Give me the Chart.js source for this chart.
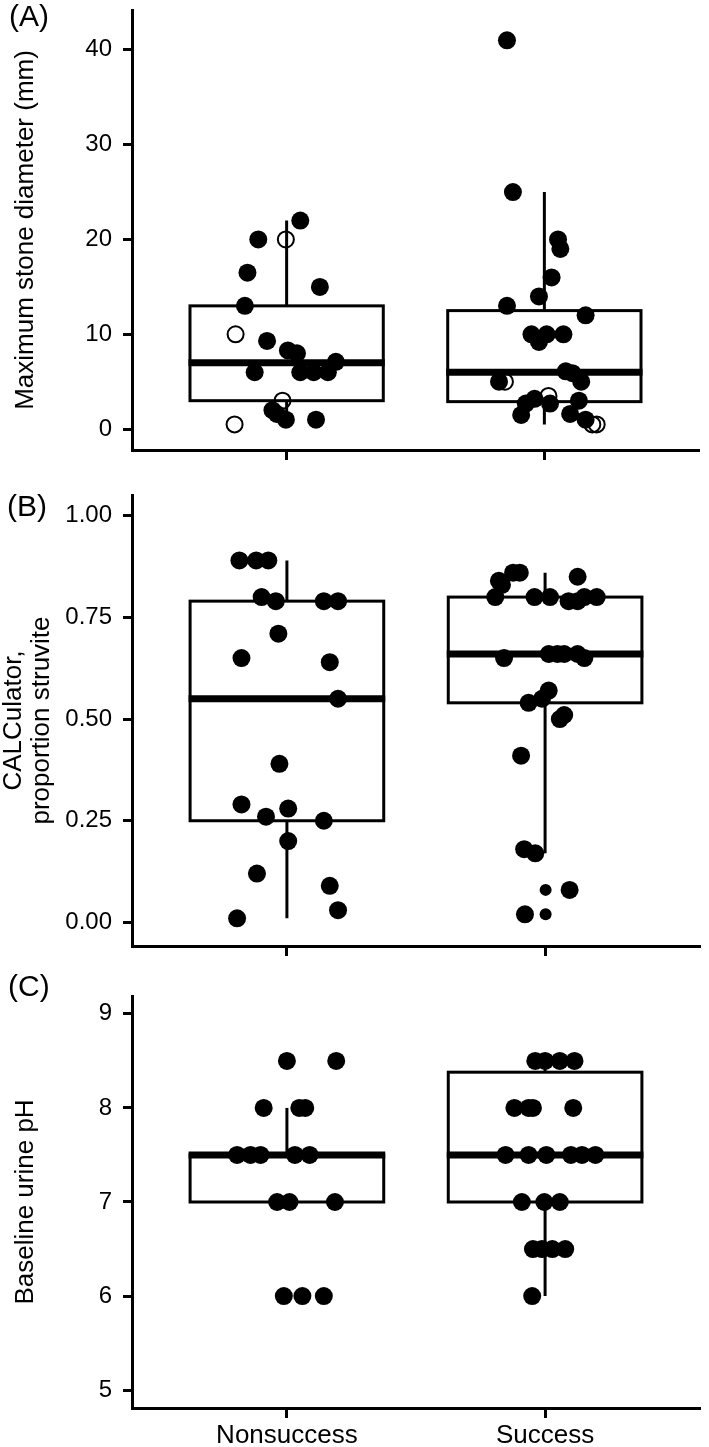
<!DOCTYPE html>
<html>
<head>
<meta charset="utf-8">
<script src="https://cdn.jsdelivr.net/npm/chart.js@4.4.1/dist/chart.umd.min.js"></script>
<style>
  html, body { margin: 0; padding: 0; background: #fff; }
  #wrap { position: relative; width: 709px; height: 1447px; }
  canvas { position: absolute; left: 0; }
</style>
</head>
<body>
<div id="wrap">
  <canvas id="chartA" width="709" height="480" style="top:0"></canvas>
  <canvas id="chartB" width="709" height="480" style="top:480px"></canvas>
  <canvas id="chartC" width="709" height="487" style="top:960px"></canvas>
</div>
<script>
// categories on the x axis
const groups = ['Nonsuccess', 'Success'];

// (A) maximum stone diameter, mm  (jitter = horizontal offset in category units)
const stoneNonFilled = [22, 20, 16.5, 15, 13, 9.3, 8.3, 8, 7.1, 6, 6, 6, 6, 2, 1.6, 1, 1];
const stoneNonFilledJit = [0.053, -0.11, -0.152, 0.129, -0.162, -0.076, 0.005, 0.04, 0.191, -0.124, 0.053, 0.105, 0.16, -0.055, -0.038, -0.003, 0.114];
const stoneNonOpen = [20, 10, 3, 0.5];
const stoneNonOpenJit = [-0.003, -0.198, -0.016, -0.202];
const stoneSucFilled = [41, 25, 20, 19, 16, 14, 13, 12, 10, 10, 10, 9.2, 6.1, 5.9, 5, 5, 3.2, 2.7, 2.7, 3, 1.5, 1.6, 1];
const stoneSucFilledJit = [-0.145, -0.122, 0.053, 0.062, 0.028, -0.021, -0.145, 0.16, -0.05, 0.009, 0.074, -0.021, 0.083, 0.109, -0.176, 0.143, -0.038, -0.072, 0.022, 0.134, -0.09, 0.1, 0.16];
const stoneSucOpen = [5, 3.5, 0.5, 0.5];
const stoneSucOpenJit = [-0.153, 0.016, 0.186, 0.203];
// box stats per group: [Nonsuccess, Success]
const stoneLo = [1, 0.5];
const stoneQ1 = [3, 2.9];
const stoneMed = [7, 6];
const stoneQ3 = [13, 12.5];
const stoneHi = [22, 25];
const stoneTicks = [0, 10, 20, 30, 40];
const stoneTickLabels = ['0', '10', '20', '30', '40'];

// (B) CALCulator, proportion struvite
const struvNon = [0.89, 0.89, 0.89, 0.8, 0.79, 0.79, 0.79, 0.71, 0.65, 0.64, 0.55, 0.39, 0.29, 0.28, 0.26, 0.25, 0.2, 0.12, 0.09, 0.03, 0.01];
const struvNonJit = [-0.184, -0.119, -0.072, -0.098, -0.043, 0.143, 0.198, -0.033, -0.176, 0.166, 0.198, -0.029, -0.176, 0.005, -0.081, 0.143, 0.005, -0.116, 0.166, 0.198, -0.193];
const struvSuc = [0.86, 0.86, 0.85, 0.84, 0.83, 0.8, 0.8, 0.8, 0.8, 0.8, 0.79, 0.79, 0.65, 0.66, 0.66, 0.66, 0.66, 0.65, 0.57, 0.55, 0.54, 0.51, 0.5, 0.41, 0.18, 0.17, 0.08, 0.02];
const struvSucJit = [-0.124, -0.098, 0.126, -0.179, -0.167, -0.193, -0.041, 0.019, 0.152, 0.2, 0.091, 0.126, -0.159, 0.014, 0.048, 0.074, 0.126, 0.152, 0.014, -0.012, -0.064, 0.074, 0.057, -0.093, -0.081, -0.038, 0.095, -0.078];
const struvSucSmall = [0.08, 0.02];
const struvSucSmallJit = [0.002, 0.002];
const struvLo = [0.01, 0.17];
const struvQ1 = [0.25, 0.54];
const struvMed = [0.55, 0.66];
const struvQ3 = [0.79, 0.8];
const struvHi = [0.89, 0.86];
const struvTicks = [0, 0.25, 0.5, 0.75, 1];
const struvTickLabels = ['0.00', '0.25', '0.50', '0.75', '1.00'];

// (C) baseline urine pH
const phNon = [8.5, 8.5, 8, 8, 8, 7.5, 7.5, 7.5, 7.5, 7.5, 7, 7, 7, 6, 6, 6];
const phNonJit = [0, 0.191, -0.09, 0.048, 0.071, -0.193, -0.141, -0.102, 0.031, 0.088, -0.038, 0.01, 0.186, -0.012, 0.06, 0.143];
const phSuc = [8.5, 8.5, 8.5, 8.5, 8, 8, 8, 8, 7.5, 7.5, 7.5, 7.5, 7.5, 7.5, 7, 7, 7, 6.5, 6.5, 6.5, 6.5, 6];
const phSucJit = [-0.038, 0, 0.057, 0.114, -0.119, -0.064, -0.047, 0.109, -0.153, -0.064, 0.005, 0.1, 0.143, 0.195, -0.09, -0.003, 0.057, -0.047, -0.012, 0.028, 0.078, -0.05];
const phLo = [7, 6];
const phQ1 = [7, 7];
const phMed = [7.5, 7.5];
const phQ3 = [7.5, 8.38];
const phHi = [8, 8.5];
const phTicks = [5, 6, 7, 8, 9];
const phTickLabels = ['5', '6', '7', '8', '9'];

const FONT = "'Liberation Sans', Arial, Helvetica, sans-serif";
const BOX_HALF = 0.375; // half box width in category units

// turn values + jitter into scatter points around group position
const pts = (vals, jit, group) => vals.map((v, i) => ({ x: group + jit[i], y: v }));

const filled = (data, r) => ({
  data, pointRadius: r, pointHoverRadius: r,
  backgroundColor: '#000', borderColor: '#000', borderWidth: 0, showLine: false,
});
const open = (data) => ({
  data, pointRadius: 8, pointHoverRadius: 8,
  backgroundColor: 'rgba(0,0,0,0)', borderColor: '#000', borderWidth: 2, showLine: false,
});

// draws the box and whiskers under the points
const boxPlugin = {
  id: 'boxes',
  beforeDatasetsDraw(chart, args, opts) {
    const { ctx, scales: { x, y } } = chart;
    ctx.save();
    ctx.strokeStyle = '#000';
    ctx.lineCap = 'butt';
    opts.q1.forEach((q1, i) => {
      const g = i + 1;
      const cx = x.getPixelForValue(g);
      const l = x.getPixelForValue(g - BOX_HALF);
      const r = x.getPixelForValue(g + BOX_HALF);
      const yq1 = y.getPixelForValue(q1);
      const yq3 = y.getPixelForValue(opts.q3[i]);
      ctx.lineWidth = 3;
      ctx.beginPath();
      ctx.moveTo(cx, y.getPixelForValue(opts.hi[i]));
      ctx.lineTo(cx, yq3);
      ctx.moveTo(cx, yq1);
      ctx.lineTo(cx, y.getPixelForValue(opts.lo[i]));
      ctx.stroke();
      ctx.fillStyle = '#fff';
      ctx.fillRect(l, yq3, r - l, yq1 - yq3);
      ctx.strokeRect(l, yq3, r - l, yq1 - yq3);
      ctx.lineWidth = 7;
      const ym = y.getPixelForValue(opts.med[i]);
      ctx.beginPath();
      ctx.moveTo(l - 1.5, ym);
      ctx.lineTo(r + 1.5, ym);
      ctx.stroke();
    });
    ctx.restore();
  }
};

// panel letter in the top left corner
const letterPlugin = {
  id: 'letter',
  afterDraw(chart, args, opts) {
    const { ctx } = chart;
    ctx.save();
    ctx.fillStyle = '#000';
    ctx.font = '30px ' + FONT;
    ctx.textAlign = 'left';
    ctx.textBaseline = 'middle';
    ctx.fillText(opts.text, opts.x, opts.y);
    ctx.restore();
  }
};

function makePanel(id, p) {
  return new Chart(document.getElementById(id), {
    type: 'scatter',
    data: { datasets: p.datasets },
    plugins: [boxPlugin, letterPlugin],
    options: {
      responsive: false,
      animation: false,
      events: [],
      layout: { padding: { top: p.padTop, left: 0, right: 0, bottom: 0 } },
      plugins: {
        legend: { display: false },
        tooltip: { enabled: false },
        boxes: p.stats,
        letter: p.letter,
      },
      scales: {
        x: {
          type: 'linear',
          min: 0.4,
          max: 2.6,
          afterBuildTicks: (s) => { s.ticks = [1, 2].map((v) => ({ value: v })); },
          afterFit: (s) => { s.height = p.xHeight; s.paddingLeft = 0; s.paddingRight = 0; },
          border: { display: true, color: '#000', width: 3 },
          grid: { drawOnChartArea: false, drawTicks: true, tickLength: 10, tickColor: '#000', tickWidth: 3, color: '#000' },
          ticks: {
            padding: 2,
            color: '#000',
            maxRotation: 0,
            autoSkip: false,
            font: { family: FONT, size: 26 },
            callback: (v, i) => (p.showX ? groups[i] : ''),
          },
        },
        y: {
          min: p.yMin,
          max: p.yMax,
          afterBuildTicks: (s) => { s.ticks = p.ticks.map((v) => ({ value: v })); },
          afterFit: (s) => { s.width = 132; s.paddingTop = 0; s.paddingBottom = 0; },
          border: { display: true, color: '#000', width: 3 },
          grid: { drawOnChartArea: false, drawTicks: true, tickLength: 9, tickColor: '#000', tickWidth: 3, color: '#000' },
          ticks: {
            padding: 11,
            color: '#000',
            font: { family: FONT, size: 24 },
            callback: (v, i) => p.tickLabels[i],
          },
          title: {
            display: true,
            text: p.title,
            color: '#000',
            font: { family: FONT, size: p.titleSize, lineHeight: p.titleLine },
            padding: { top: p.titlePad, bottom: 0 },
          },
        },
      },
    },
  });
}

makePanel('chartA', {
  datasets: [
    filled(pts(stoneNonFilled, stoneNonFilledJit, 1), 9),
    open(pts(stoneNonOpen, stoneNonOpenJit, 1)),
    filled(pts(stoneSucFilled, stoneSucFilledJit, 2), 9),
    open(pts(stoneSucOpen, stoneSucOpenJit, 2)),
  ],
  stats: { lo: stoneLo, q1: stoneQ1, med: stoneMed, q3: stoneQ3, hi: stoneHi },
  letter: { text: '(A)', x: 9, y: 18 },
  padTop: 0, xHeight: 30, yMin: -2.2, yMax: 44.2,
  ticks: stoneTicks, tickLabels: stoneTickLabels,
  title: 'Maximum stone diameter (mm)', titleSize: 26, titleLine: 1.2, titlePad: 10,
  showX: false,
});

makePanel('chartB', {
  datasets: [
    filled(pts(struvNon, struvNonJit, 1), 9),
    filled(pts(struvSuc, struvSucJit, 2), 9),
    filled(pts(struvSucSmall, struvSucSmallJit, 2), 6),
  ],
  stats: { lo: struvLo, q1: struvQ1, med: struvMed, q3: struvQ3, hi: struvHi },
  letter: { text: '(B)', x: 7, y: 28 },
  padTop: 15, xHeight: 14, yMin: -0.058, yMax: 1.051,
  ticks: struvTicks, tickLabels: struvTickLabels,
  title: ['CALCulator,', 'proportion struvite'], titleSize: 26, titleLine: 1.08, titlePad: 0,
  showX: false,
});

makePanel('chartC', {
  datasets: [
    filled(pts(phNon, phNonJit, 1), 9),
    filled(pts(phSuc, phSucJit, 2), 9),
  ],
  stats: { lo: phLo, q1: phQ1, med: phMed, q3: phQ3, hi: phHi },
  letter: { text: '(C)', x: 8, y: 28 },
  padTop: 36, xHeight: 39, yMin: 4.81, yMax: 9.19,
  ticks: phTicks, tickLabels: phTickLabels,
  title: 'Baseline urine pH', titleSize: 26, titleLine: 1.2, titlePad: 10,
  showX: true,
});
</script>
</body>
</html>
